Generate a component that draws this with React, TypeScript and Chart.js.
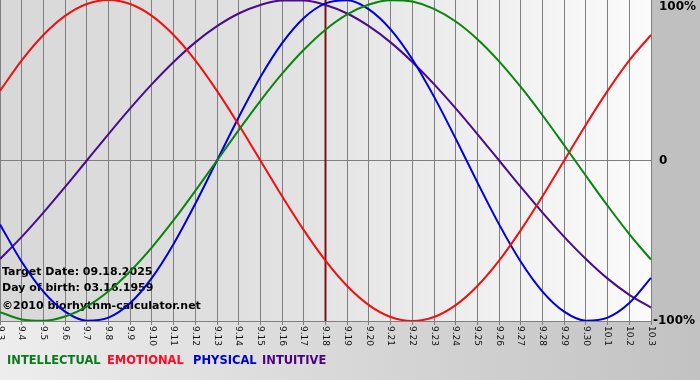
import React, { useEffect, useRef } from "react";
import { Chart, registerables } from "chart.js";

Chart.register(...registerables);

const dayLabels = [
  "9.3", "9.4", "9.5", "9.6", "9.7", "9.8", "9.9", "9.10", "9.11", "9.12", "9.13",
  "9.14", "9.15", "9.16", "9.17", "9.18", "9.19", "9.20", "9.21", "9.22", "9.23",
  "9.24", "9.25", "9.26", "9.27", "9.28", "9.29", "9.30", "10.1", "10.2", "10.3",
];

const intellectual = [
  -94.5, -99.0, -99.9, -97.2, -91.0, -81.5, -69.0, -54.1, -37.2, -18.9, 0, 18.9, 37.2,
  54.1, 69.0, 81.5, 91.0, 97.2, 99.9, 99.0, 94.5, 86.6, 75.6, 61.8, 45.8, 28.2, 9.5,
  -9.5, -28.2, -45.8, -61.8,
];
const emotional = [
  43.4, 62.4, 78.2, 90.1, 97.5, 100, 97.5, 90.1, 78.2, 62.4, 43.4, 22.3, 0, -22.3,
  -43.4, -62.4, -78.2, -90.1, -97.5, -100, -97.5, -90.1, -78.2, -62.4, -43.4, -22.3, 0,
  22.3, 43.4, 62.4, 78.2,
];
const physical = [
  -39.8, -63.1, -81.7, -94.2, -99.8, -97.9, -88.8, -73.1, -52.0, -27.0, 0, 27.0, 52.0,
  73.1, 88.8, 97.9, 99.8, 94.2, 81.7, 63.1, 39.8, 13.6, -13.6, -39.8, -63.1, -81.7,
  -94.2, -99.8, -97.9, -88.8, -73.1,
];
const intuitive = [
  -61.4, -47.6, -32.5, -16.5, 0, 16.5, 32.5, 47.6, 61.4, 73.6, 83.7, 91.6, 96.9, 99.7,
  99.7, 96.9, 91.6, 83.7, 73.6, 61.4, 47.6, 32.5, 16.5, 0, -16.5, -32.5, -47.6, -61.4,
  -73.6, -83.7, -91.6,
];

const seriesNames = ["INTELLECTUAL", "EMOTIONAL", "PHYSICAL", "INTUITIVE"];
const yTickValues = [100, 0, -100];
const yTickLabels = ["100%", "0", "-100%"];
const targetDay = "9.18";
const infoLines = ["Target Date: 09.18.2025", "Day of birth: 03.16.1959", "\u00a92010 biorhythm-calculator.net"];

const colors = ["#0a840f", "#ee1111", "#0000dd", "#4b0c8a"];
const legendColors = ["#0b7a1c", "#ff0a24", "#0000cc", "#4b0082"];

export default function App() {
  const ref = useRef<HTMLCanvasElement | null>(null);

  useEffect(() => {
    const canvas = ref.current;
    if (!canvas) return;

    const decor = {
      id: "decor",
      beforeDraw(chart: any) {
        const { ctx, chartArea: a, width, height } = chart;
        ctx.save();
        const g = ctx.createLinearGradient(0, 0, width, 0);
        g.addColorStop(0, "#ededed");
        g.addColorStop(1, "#c2c2c2");
        ctx.fillStyle = g;
        ctx.fillRect(0, 0, width, height);
        ctx.fillStyle = "#c0c0c0";
        ctx.fillRect(a.right, 0, width - a.right, a.bottom);
        const pg = ctx.createLinearGradient(a.left, 0, a.right, 0);
        pg.addColorStop(0, "#d8d8d8");
        pg.addColorStop(0.45, "#e2e2e2");
        pg.addColorStop(1, "#fbfbfb");
        ctx.fillStyle = pg;
        ctx.fillRect(a.left, a.top, a.right - a.left, a.bottom - a.top);
        ctx.restore();
      },
      beforeDatasetsDraw(chart: any) {
        const { ctx, chartArea: a, scales } = chart;
        ctx.save();
        const tx = scales.x.getPixelForValue(dayLabels.indexOf(targetDay));
        ctx.strokeStyle = "#7a1414";
        ctx.lineWidth = 2;
        ctx.beginPath();
        ctx.moveTo(tx, a.top);
        ctx.lineTo(tx, a.bottom);
        ctx.stroke();
        ctx.fillStyle = "#000";
        ctx.font = "bold 11px 'DejaVu Sans'";
        ctx.textBaseline = "middle";
        ctx.textAlign = "left";
        const ys = [272, 288, 306];
        infoLines.forEach((t, i) => ctx.fillText(t, 2, ys[i]));
        ctx.restore();
      },
      afterDraw(chart: any) {
        const { ctx, chartArea: a, scales } = chart;
        ctx.save();
        ctx.fillStyle = "#111";
        ctx.font = "9px 'DejaVu Sans'";
        ctx.textBaseline = "middle";
        ctx.textAlign = "left";
        dayLabels.forEach((lab, i) => {
          const x = scales.x.getPixelForValue(i);
          ctx.save();
          ctx.translate(x, a.bottom + 5);
          ctx.rotate(Math.PI / 2);
          ctx.fillText(lab, 0, 0);
          ctx.restore();
        });
        ctx.fillStyle = "#000";
        ctx.font = "bold 12px 'DejaVu Sans'";
        yTickValues.forEach((v, i) => {
          let y = scales.y.getPixelForValue(v);
          y = Math.max(y, a.top + 7);
          const lab = yTickLabels[i];
          const x = lab.startsWith("-") ? a.right + 2 : a.right + 8;
          ctx.fillText(lab, x, y);
        });
        ctx.font = "bold 11.5px 'DejaVu Sans'";
        const xs = [7, 107, 193, 262];
        chart.data.datasets.forEach((ds: any, i: number) => {
          ctx.fillStyle = legendColors[i];
          ctx.fillText(ds.label, xs[i], 361);
        });
        ctx.restore();
      },
    };

    const mk = (label: string, data: number[], color: string) => ({
      label,
      data,
      borderColor: color,
      backgroundColor: color,
      borderWidth: 2,
      pointRadius: 0,
      fill: false,
      cubicInterpolationMode: "monotone" as const,
    });

    const chart = new Chart(canvas, {
      type: "line",
      data: {
        labels: dayLabels,
        datasets: [
          mk(seriesNames[0], intellectual, colors[0]),
          mk(seriesNames[1], emotional, colors[1]),
          mk(seriesNames[2], physical, colors[2]),
          mk(seriesNames[3], intuitive, colors[3]),
        ],
      },
      options: {
        animation: false,
        responsive: false,
        maintainAspectRatio: false,
        devicePixelRatio: 1,
        layout: { padding: { left: 0, top: 0, right: 49, bottom: 55 } },
        plugins: { legend: { display: false }, tooltip: { enabled: false } },
        scales: {
          x: {
            type: "category",
            offset: false,
            ticks: { display: false, autoSkip: false },
            grid: { color: "#7f7f7f", lineWidth: 1, drawTicks: true, tickLength: 4 },
            border: { display: true, color: "#7f7f7f" },
            afterFit: (s: any) => {
              s.height = 4;
            },
          },
          y: {
            position: "right",
            min: -100,
            max: 100,
            ticks: { display: false, stepSize: 100 },
            grid: {
              drawTicks: false,
              color: (c: any) => (c.tick && c.tick.value === 0 ? "#7f7f7f" : "rgba(0,0,0,0)"),
            },
            border: { display: false },
            afterFit: (s: any) => {
              s.width = 0;
            },
          },
        },
      },
      plugins: [decor],
    });

    return () => chart.destroy();
  }, []);

  return (
    <div style={{ position: "fixed", left: 0, top: 0, width: 700, height: 380 }}>
      <canvas ref={ref} width={700} height={380} style={{ width: 700, height: 380 }} />
    </div>
  );
}
